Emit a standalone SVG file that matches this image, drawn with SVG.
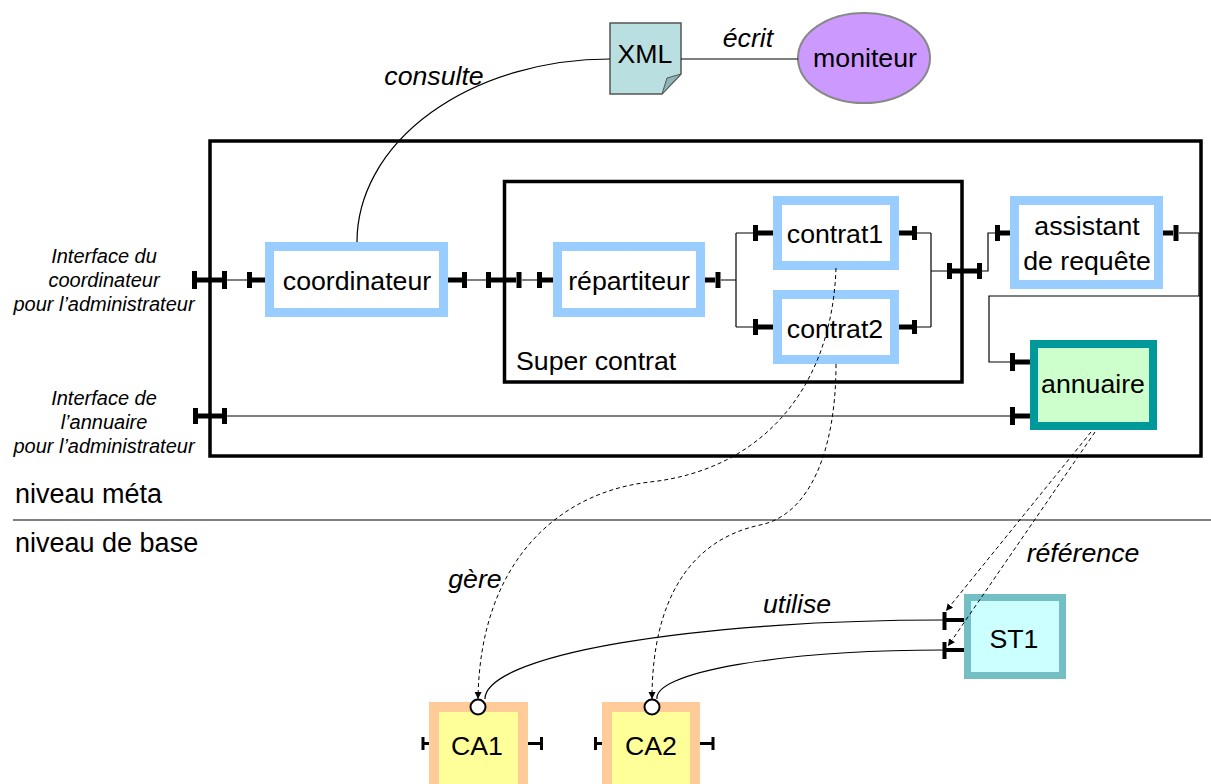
<svg xmlns="http://www.w3.org/2000/svg" width="1211" height="784" viewBox="0 0 1211 784">
<style>
text{font-family:"Liberation Sans",Arial,sans-serif;fill:#000}
.n{font-size:26.7px;text-anchor:middle}
.it{font-size:26.7px;font-style:italic;text-anchor:middle}
.lab{font-size:20px;font-style:italic;text-anchor:middle}
.lvl{font-size:27px}
.bx{fill:#fff;stroke:#99ccff;stroke-width:9}
.ln{fill:none;stroke:#000;stroke-width:1.2}
.pt{fill:none;stroke:#000;stroke-width:5}
.pc{fill:none;stroke:#000;stroke-width:3}
.ds{fill:none;stroke:#000;stroke-width:1;stroke-dasharray:4 3}
</style>
<defs>
<marker id="arr" markerUnits="userSpaceOnUse" markerWidth="8" markerHeight="8" refX="7" refY="3.5" orient="auto">
<path d="M0,0 L7,3.5 L0,7 z" fill="#000"/>
</marker>
</defs>
<rect width="1211" height="784" fill="#fff"/>

<g id="meta-container">
<rect x="210" y="141" width="991" height="315" fill="none" stroke="#000" stroke-width="3.5"/>
</g>
<g id="super-contrat">
<rect x="504.5" y="181.5" width="457.5" height="200.5" fill="none" stroke="#000" stroke-width="3.5"/>
<text x="516" y="370" style="font-size:26.7px">Super contrat</text>
</g>

<g id="levels">
<line x1="13" y1="520" x2="1211" y2="520" stroke="#808080" stroke-width="2"/>
<text x="15" y="503" class="lvl">niveau méta</text>
<text x="15" y="552" class="lvl">niveau de base</text>
</g>

<g id="xml">
<path d="M610,23 H681 V74 L662,94 H610 Z" fill="#b9dfe1" stroke="#555" stroke-width="1.5"/>
<path d="M681,74 L667,78 L662,94 Z" fill="#8fb4b8" stroke="#555" stroke-width="1"/>
<text x="645" y="63" class="n">XML</text>
</g>
<g id="moniteur">
<ellipse cx="864" cy="58" rx="66" ry="45" fill="#cc99ff" stroke="#888" stroke-width="2"/>
<text x="865" y="67" class="n">moniteur</text>
</g>

<g id="iface-coord">
<text x="104" y="263" class="lab">Interface du</text>
<text x="104" y="287" class="lab">coordinateur</text>
<text x="104" y="311" class="lab">pour l’administrateur</text>
</g>
<g id="iface-annuaire">
<text x="104" y="405" class="lab">Interface de</text>
<text x="104" y="429" class="lab">l’annuaire</text>
<text x="104" y="453" class="lab">pour l’administrateur</text>
</g>

<g id="coordinateur">
<rect x="269.5" y="246.5" width="174" height="66" class="bx"/>
<text x="357" y="290" class="n">coordinateur</text>
</g>
<g id="repartiteur">
<rect x="557.5" y="246.5" width="143" height="66" class="bx"/>
<text x="629" y="290" class="n">répartiteur</text>
</g>
<g id="contrat1">
<rect x="777.5" y="200.5" width="117" height="65" class="bx"/>
<text x="835" y="243" class="n">contrat1</text>
</g>
<g id="contrat2">
<rect x="777.5" y="294.5" width="117" height="65" class="bx"/>
<text x="835" y="338" class="n">contrat2</text>
</g>
<g id="assistant">
<rect x="1014.5" y="200.5" width="144" height="84" class="bx"/>
<text x="1087" y="235" class="n">assistant</text>
<text x="1087" y="270" class="n">de requête</text>
</g>
<g id="annuaire">
<rect x="1034" y="344" width="119" height="82" fill="#ccffcc" stroke="#009999" stroke-width="8"/>
<text x="1093" y="393" class="n">annuaire</text>
</g>

<g id="st1">
<rect x="967.5" y="597.5" width="95" height="78" fill="#ccffff" stroke="#73bfc4" stroke-width="7"/>
<text x="1014" y="648" class="n">ST1</text>
</g>
<g id="ca1">
<rect x="434" y="707" width="89" height="90" fill="#ffff99" stroke="#ffcc99" stroke-width="10"/>
<circle cx="478" cy="707" r="7.5" fill="#fff" stroke="#000" stroke-width="2"/>
<text x="477" y="755" class="n">CA1</text>
</g>
<g id="ca2">
<rect x="607" y="707" width="88" height="90" fill="#ffff99" stroke="#ffcc99" stroke-width="10"/>
<circle cx="652" cy="707" r="7.5" fill="#fff" stroke="#000" stroke-width="2"/>
<text x="651" y="755" class="n">CA2</text>
</g>

<g id="connectors">
<path class="ln" d="M610,59 A253,183 0 0 0 357,242"/>
<path class="ln" d="M681,59 H798"/>
<path class="ln" d="M227,280 H247 M467,280 H486 M522,280 H537 M721,280 H736 M736,233 V327 M736,233 H753 M736,327 H753 M917,233 H931 M917,327 H931 M931,233 V327 M931,271 H947 M982,271 H988 V233 H995 M1179,233 H1199 V296 H989 V362 H1010 M227,416 H1010"/>
<path class="pt" d="M197,280 H222 M194.5,271 V289 M224.5,271 V289 M249.5,272 V288 M252,280 H265 M448,280 H462 M464.5,272 V288 M488.5,272 V288 M491,280 H516 M519,272 V288 M539.5,272 V288 M542,280 H553 M705,280 H715 M718,272 V288 M755.5,225 V241 M758,233 H773 M755.5,319 V335 M758,327 H773 M899,233 H912 M914.5,226 V240 M899,327 H912 M914.5,320 V334 M949.5,263 V279 M952,271 H977 M979.5,263 V279 M997.5,225 V241 M1000,233 H1010 M1163,233 H1173 M1176,225 V241 M1012.5,353 V371 M1015,362 H1030 M1012.5,407 V425 M1015,416 H1030 M195.5,408 V424 M198,416 H222 M224.5,408 V424"/>
<path class="pt" style="stroke-width:4" d="M944.5,612 V630 M946,620 H964 M944.5,642 V659 M946,650 H964"/>
<path class="pc" d="M423,737 V750 M424,743.5 H429 M528,743.5 H541 M541.5,737 V750 M595.5,737 V750 M597,743.5 H602 M700,743.5 H712 M713,737 V750"/>
<path class="ln" d="M943,620 A458,79 0 0 0 485,699"/>
<path class="ln" d="M943,650 A286,48 0 0 0 657,699"/>
<path class="ds" marker-end="url(#arr)" d="M836,268 C832,390 760,470 650,482 C560,492 480,560 478,699"/>
<path class="ds" marker-end="url(#arr)" d="M836,364 C836,450 810,515 760,525 C690,540 652,600 652,699"/>
<path class="ds" marker-end="url(#arr)" d="M1091,432 L946,611"/>
<path class="ds" marker-end="url(#arr)" d="M1095,432 L948,646"/>
<text x="434" y="85" class="it">consulte</text>
<text x="748" y="47" class="it">écrit</text>
<text x="475" y="588" class="it">gère</text>
<text x="797" y="613" class="it">utilise</text>
<text x="1083" y="562" class="it">référence</text>
</g>
</svg>
